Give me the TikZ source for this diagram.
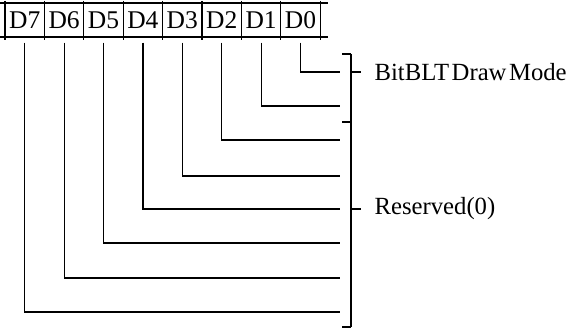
\documentclass[tikz,border=0pt]{standalone}
\usepackage{fontspec}
\setmainfont{Liberation Serif}
\begin{document}
\begin{tikzpicture}[x=1pt,y=1pt,
  line width=1.2pt,
  bitcell/.style={draw=none,minimum width=39.4pt,minimum height=34pt,inner sep=0pt,
    font=\fontsize{25.5}{28}\selectfont},
  lbl/.style={anchor=west,inner sep=0pt,font=\fontsize{24.7}{28}\selectfont}]
\useasboundingbox (0,0) rectangle (567,-329);
% cells
\foreach \i/\n in {0/7,1/6,2/5,3/4,4/3,5/2,6/1,7/0}{
  \node[bitcell] (c\n) at ({5+39.4*\i+19.7},-20) {D\n};
}
% grid
\draw (0,-3) -- (328,-3);
\draw (0,-37) -- (328,-37);
\foreach \i in {0,...,8}{
  \draw ({5+39.4*\i},-1) -- ({5+39.4*\i},-40);
}
% line ends
\foreach \n/\y in {0/72,1/106,2/140,3/176,4/209,5/243,6/278,7/312}{
  \coordinate (e\n) at (340,-\y);
  \draw ([yshift=-5pt]c\n.south) |- (e\n);
}
% brackets
\coordinate (bt) at (351,-54);
\coordinate (bm) at (351,-122);
\coordinate (bb) at (351,-327);
\draw (bt) -- (bb);
\draw (bt) -- ++(-9,0);
\draw (bm) -- ++(-9,0);
\draw (bb) -- ++(-9,0);
\coordinate (t1) at (351,-72);
\coordinate (t2) at (351,-209);
\draw (t1) -- ++(10,0);
\draw (t2) -- ++(10,0);
\node[lbl] (l1) at (374,-72) {BitBLT\hspace{2.5pt}Draw\hspace{2.5pt}Mode};
\node[lbl] (l2) at (374,-209) {Reserved(0)};
\end{tikzpicture}
\end{document}
